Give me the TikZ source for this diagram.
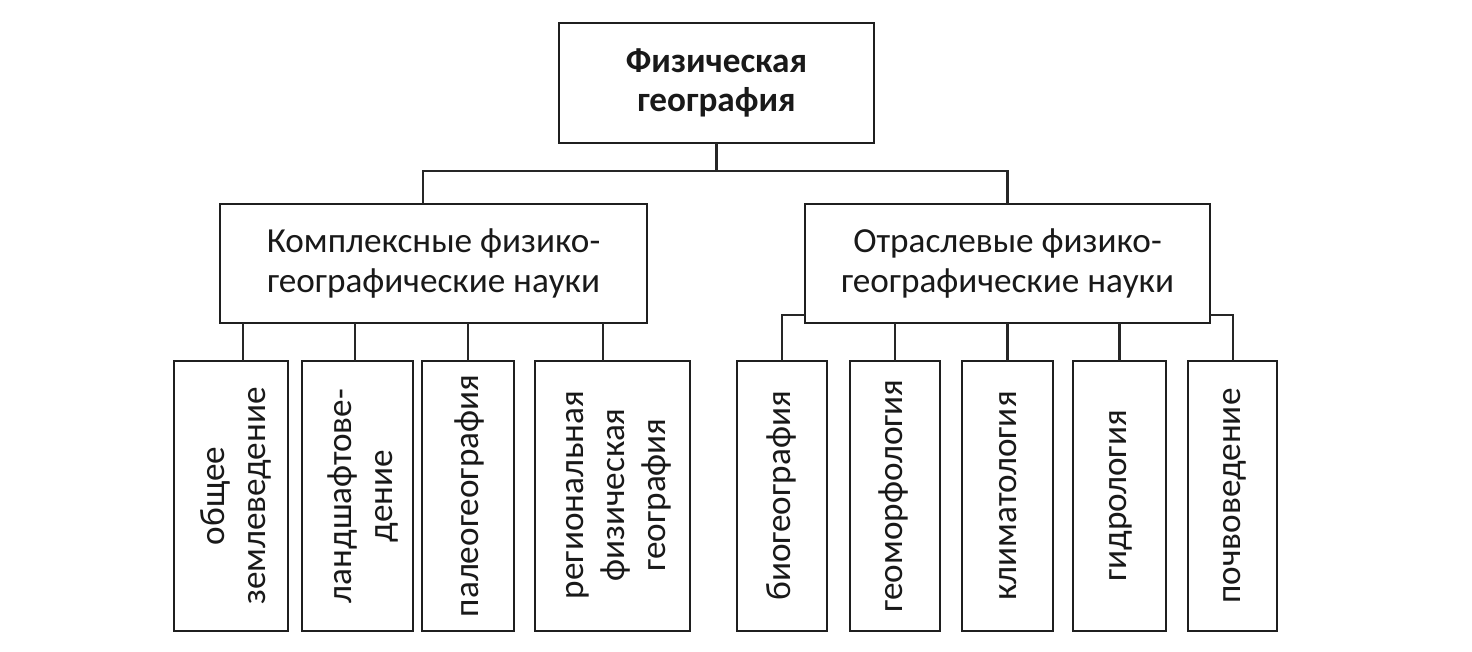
\documentclass[tikz,border=0pt]{standalone}
\usepackage{fontspec}
\setmainfont{Carlito}
\begin{document}
\begin{tikzpicture}[x=0.5pt,y=-0.5pt,
  box/.style={draw=black!88, line width=1.3pt, inner sep=0pt, outer sep=0pt, fill=white},
  htext/.style={font=\fontsize{17.6}{20}\selectfont, align=center, text=black!90},
  vtext/.style={font=\fontsize{17.6}{20.5}\selectfont, align=center, rotate=90, text=black!90, inner sep=0pt},
  conn/.style={draw=black!85, line width=1.3pt}]
\useasboundingbox (0,0) rectangle (1472,652);
% top
\node[box, htext, font=\fontsize{17.6}{19.5}\selectfont\bfseries, minimum width=157.5pt, minimum height=60pt] (top) at (716.5,83) {Физическая\\география};
% middle
\node[box, htext, minimum width=213.5pt, minimum height=59.5pt] (L) at (433.5,263.5) {Комплексные физико-\\географические науки};
\node[box, htext, minimum width=202.5pt, minimum height=59.5pt] (R) at (1007.5,263.5) {Отраслевые физико-\\географические науки};
% left children boxes
\node[box, minimum width=57pt, minimum height=135pt] (b1) at (231,496) {};
\node[box, minimum width=55.5pt, minimum height=135pt] (b2) at (357.5,496) {};
\node[box, minimum width=46pt, minimum height=135pt] (b3) at (468,496) {};
\node[box, minimum width=77.5pt, minimum height=135pt] (b4) at (612.5,496) {};
% right children boxes
\node[box, minimum width=45pt, minimum height=135pt] (r1) at (782,496) {};
\node[box, minimum width=45pt, minimum height=135pt] (r2) at (895,496) {};
\node[box, minimum width=45.5pt, minimum height=135pt] (r3) at (1007.5,496) {};
\node[box, minimum width=46.5pt, minimum height=135pt] (r4) at (1119.5,496) {};
\node[box, minimum width=44.5pt, minimum height=135pt] (r5) at (1232.5,496) {};
% rotated labels
\node[vtext] (t1) at (236,496) {общее\\землеведение};
\node[vtext] (t2) at (363,496) {ландшафтове-\\дение};
\node[vtext] (t3) at (469,496) {палеогеография};
\node[vtext] (t4) at (619,495) {региональная\\физическая\\география};
\node[vtext] (s1) at (781,496) {биогеография};
\node[vtext] (s2) at (893,496) {геоморфология};
\node[vtext] (s3) at (1008,496) {климатология};
\node[vtext] (s4) at (1121,496) {гидрология};
\node[vtext] (s5) at (1235,496) {почвоведение};
% connectors top
\coordinate (jl) at (423,171);
\coordinate (jr) at (1007.5,171);
\draw[conn] (top.south) |- (jl) -- (jl |- L.north);
\draw[conn] (top.south) |- (jr) -- (jr |- R.north);
% left children connectors
\coordinate (k1) at (243,0);
\coordinate (k2) at (355,0);
\coordinate (k3) at (468,0);
\coordinate (k4) at (603,0);
\draw[conn] (k1 |- L.south) -- (k1 |- b1.north);
\draw[conn] (k2 |- L.south) -- (k2 |- b2.north);
\draw[conn] (k3 |- L.south) -- (k3 |- b3.north);
\draw[conn] (k4 |- L.south) -- (k4 |- b4.north);
% right children connectors
\coordinate (m1) at (782,315);
\coordinate (m5) at (1233,315);
\draw[conn] (R.west |- m1) -- (m1) -- (m1 |- r1.north);
\draw[conn] (R.east |- m5) -- (m5) -- (m5 |- r5.north);
\draw[conn] (R.south -| r2.north) -- (r2.north);
\draw[conn] (R.south -| r3.north) -- (r3.north);
\draw[conn] (R.south -| r4.north) -- (r4.north);
\end{tikzpicture}
\end{document}
